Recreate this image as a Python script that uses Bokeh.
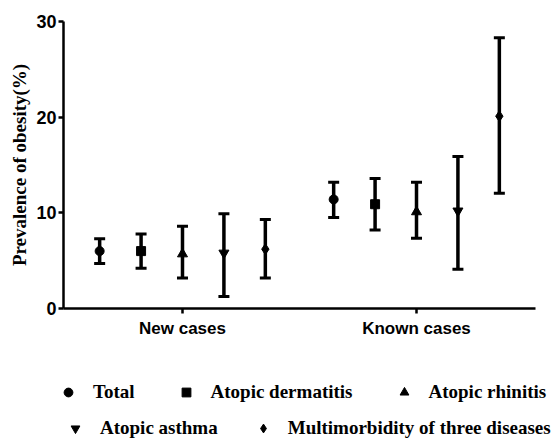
from bokeh.plotting import figure
from bokeh.layouts import column
from bokeh.models import (Range1d, FixedTicker, Whisker, TeeHead, ColumnDataSource,
                          Legend, LegendItem)
from bokeh.embed import file_html
from bokeh.resources import INLINE

# ---- data ----
groups = ["New cases", "Known cases"]
series = ["Total", "Atopic dermatitis", "Atopic rhinitis", "Atopic asthma",
          "Multimorbidity of three diseases"]
total = [6.0, 11.4]
total_lo = [4.7, 9.5]
total_hi = [7.3, 13.2]
dermatitis = [6.0, 10.9]
dermatitis_lo = [4.2, 8.2]
dermatitis_hi = [7.8, 13.6]
rhinitis = [5.7, 10.1]
rhinitis_lo = [3.2, 7.35]
rhinitis_hi = [8.6, 13.2]
asthma = [5.8, 10.2]
asthma_lo = [1.25, 4.1]
asthma_hi = [9.9, 15.9]
multi = [6.2, 20.1]
multi_lo = [3.2, 12.05]
multi_hi = [9.3, 28.3]
y_ticks = [0, 10, 20, 30]

values = [total, dermatitis, rhinitis, asthma, multi]
lows = [total_lo, dermatitis_lo, rhinitis_lo, asthma_lo, multi_lo]
highs = [total_hi, dermatitis_hi, rhinitis_hi, asthma_hi, multi_hi]

# ---- layout / style ----
offsets = [-0.354, -0.177, 0.0, 0.177, 0.354]
markers = ["circle", "square", "triangle", "inverted_triangle", "diamond"]
sizes = [9, 9, 10, 10, 11]
group_pos = [1, 2]

p = figure(width=557, height=350, output_backend="svg", toolbar_location=None,
           x_range=Range1d(0.4915, 2.5085), y_range=Range1d(0, 30),
           min_border_left=63, min_border_right=22, min_border_top=21,
           min_border_bottom=42)
p.frame_align = False
p.outline_line_color = None
p.xgrid.visible = False
p.ygrid.visible = False

for i, name in enumerate(series):
    xs = [g + offsets[i] for g in group_pos]
    src = ColumnDataSource(dict(x=xs, y=values[i], lo=lows[i], hi=highs[i]))
    w = Whisker(base="x", upper="hi", lower="lo", source=src,
                line_width=3.5, line_color="black",
                upper_head=TeeHead(size=11, line_width=3, line_color="black"),
                lower_head=TeeHead(size=11, line_width=3, line_color="black"))
    p.add_layout(w)
    p.scatter("x", "y", source=src, marker=markers[i], size=sizes[i],
              fill_color="black", line_color="black")

# axes
p.yaxis.ticker = FixedTicker(ticks=y_ticks)
p.xaxis.ticker = FixedTicker(ticks=group_pos)
p.xaxis.major_label_overrides = {g: lab for g, lab in zip(group_pos, groups)}
for ax in (p.xaxis, p.yaxis):
    ax.axis_line_width = 2.5
    ax.major_tick_line_width = 2.5
    ax.major_tick_out = 5
    ax.major_tick_in = 0
    ax.minor_tick_line_color = None
    ax.major_label_text_font = "Liberation Sans"
    ax.major_label_text_font_style = "bold"
    ax.major_label_text_color = "black"
p.xaxis.major_label_text_font_size = "17px"
p.yaxis.major_label_text_font_size = "18px"
p.xaxis.major_label_standoff = 5
p.yaxis.major_label_standoff = 2
p.yaxis.axis_label = "Prevalence of obesity(%)"
p.yaxis.axis_label_text_font = "Liberation Serif"
p.yaxis.axis_label_text_font_style = "bold"
p.yaxis.axis_label_text_font_size = "19px"
p.yaxis.axis_label_text_color = "black"
p.yaxis.axis_label_standoff = 3

# ---- legend panel (separate figure below the chart) ----
lf = figure(width=557, height=90, output_backend="svg", toolbar_location=None,
            x_axis_type=None, y_axis_type=None, x_range=Range1d(0, 1),
            y_range=Range1d(0, 1), min_border_left=63, min_border_right=0,
            min_border_top=0, min_border_bottom=0)
lf.frame_align = False
lf.outline_line_color = None
lf.xgrid.visible = False
lf.ygrid.visible = False
leg_renderers = []
for i, name in enumerate(series):
    # real points kept outside the visible range: only their legend glyph shows
    r = lf.scatter(x=[-5], y=[-5], marker=markers[i], fill_color="black",
                   line_color="black")
    leg_renderers.append(r)

def make_legend(idx, loc, spacing):
    return Legend(items=[LegendItem(label=series[i], renderers=[leg_renderers[i]])
                         for i in idx],
                  location=loc, orientation="horizontal",
                  glyph_width=22, glyph_height=22, label_standoff=14, spacing=spacing,
                  padding=0, margin=0, border_line_color=None,
                  background_fill_alpha=0,
                  label_text_font="Liberation Serif", label_text_font_style="bold",
                  label_text_font_size="19px", label_text_color="black",
                  label_height=22)

lf.add_layout(make_legend([0, 1, 2], (-6, 37), 40))
lf.add_layout(make_legend([3, 4], (1, 1), 34))

layout = column(p, lf)
open("out.html", "w").write(file_html(layout, INLINE))
